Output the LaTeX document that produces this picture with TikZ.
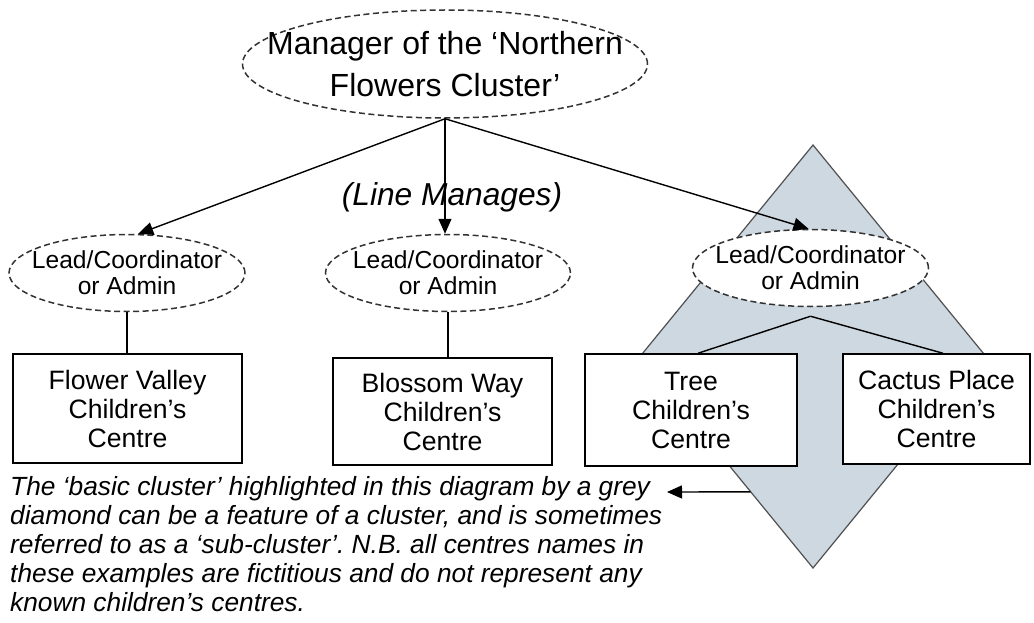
\documentclass[tikz,border=0pt]{standalone}
\usepackage{fontspec}
\setmainfont{Liberation Sans}
\usetikzlibrary{shapes.geometric,arrows.meta,calc}
\definecolor{clusterfill}{RGB}{206,216,224}
\definecolor{clusteredge}{RGB}{80,80,80}
\definecolor{dashgrey}{RGB}{50,50,50}
\frenchspacing
\begin{document}
\begin{tikzpicture}[x=1pt,y=-1pt,
  oval/.style={ellipse, draw=dashgrey, fill=white, line width=1.5pt,
    dash pattern=on 6pt off 3.5pt, align=center, inner xsep=-40pt, inner ysep=-12pt},
  leadoval/.style={oval, font=\fontsize{24.6}{26}\selectfont, minimum height=77pt},
  centrebox/.style={rectangle, draw=black, fill=white, line width=1.5pt,
    align=center, inner sep=0pt, font=\fontsize{26.6}{29}\selectfont},
  link/.style={draw=black, line width=1.4pt},
  manages/.style={link, -{Triangle[length=15pt,width=13pt]}},
]
\useasboundingbox (0,0) rectangle (1034,623);

% grey diamond marking the basic cluster
\node[diamond, draw=clusteredge, fill=clusterfill, line width=1.2pt, inner sep=0pt,
      outer sep=0pt, minimum width=346pt, minimum height=423pt] (sub) at (813,356.5) {};

% cluster manager
\node[oval, font=\fontsize{32}{42}\selectfont, minimum width=405pt, minimum height=108pt]
  (mgr) at (445,64) {Manager of the ‘Northern\\Flowers Cluster’};

% leads
\node[leadoval, minimum width=236pt] (lead1) at (127,273) {Lead/Coordinator\\or Admin};
\node[leadoval, minimum width=245pt] (lead2) at (448,273) {Lead/Coordinator\\or Admin};
\node[leadoval, minimum width=236pt] (lead3) at (810.5,268) {Lead/Coordinator\\or Admin};

% centres
\node[centrebox, minimum width=229pt, minimum height=109pt] (fv) at (127.5,408.5)
  {Flower Valley\\Children’s\\Centre};
\node[centrebox, minimum width=219pt, minimum height=107pt] (bw) at (442.5,411.5)
  {Blossom Way\\Children’s\\Centre};
\node[centrebox, minimum width=212pt, minimum height=112pt] (tree) at (691,410)
  {Tree\\Children’s\\Centre};
\node[centrebox, minimum width=187pt, minimum height=110pt] (cactus) at (936.5,409)
  {Cactus Place\\Children’s\\Centre};

% line management
\draw[manages] (mgr.south) -- (lead1.74);
\draw[manages] (mgr.south) -- (mgr.south |- lead2.north);
\draw[manages] (mgr.south) -- (lead3.93);
\node[font=\itshape\fontsize{31.7}{34}\selectfont] (lm) at (452,197) {(Line Manages)};

% leads to centres
\draw[link] (lead1.south) -- (lead1.south |- fv.north);
\draw[link] (lead2.south) -- (lead2.south |- bw.north);
\coordinate (fork) at ($(lead3.south)+(0,9)$);
\draw[link] (fork) -- ($(tree.north)+(7,0)$);
\draw[link] (fork) -- ($(cactus.north)+(6.5,0)$);

% explanatory note
\node[anchor=north west, inner sep=0pt, align=left,
      font=\itshape\fontsize{26.3}{29}\selectfont] (note) at (10,476)
  {The ‘basic cluster’ highlighted in this diagram by a grey\\
   diamond can be a feature of a cluster, and is sometimes\\
   referred to as a ‘sub-cluster’. N.B. all centres names in\\
   these examples are fictitious and do not represent any\\
   known children’s centres.};
\coordinate (pointer) at ($(sub.south)!0.36!(sub.west)$);
\coordinate (captip) at (667,492);
\draw[manages] (pointer) -- (captip);
\end{tikzpicture}
\end{document}
